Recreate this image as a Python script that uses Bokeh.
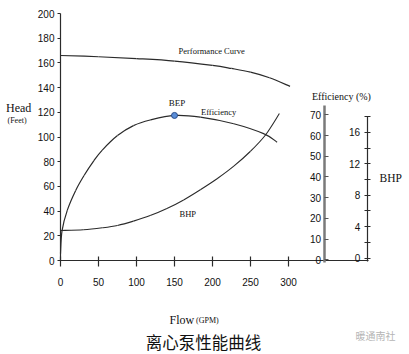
from bokeh.plotting import figure
from bokeh.models import Range1d, LinearAxis, FixedTicker, Label
from bokeh.embed import file_html
from bokeh.resources import INLINE

# ---------------- data ----------------
perf_flow = [0, 50, 100, 150, 200, 225, 250, 275, 302]
perf_head = [166, 165, 163.5, 161.5, 158, 155.5, 152.5, 148, 141]

eff_flow = [0, 2, 9, 20, 31, 44, 55, 75, 96, 118, 150, 184, 228, 268, 285]
eff_pct = [3, 14, 24, 33.5, 40.7, 47.9, 53, 60, 64.8, 67.5, 69.7, 68.9, 65.7, 60.8, 56.8]

bhp_flow = [0, 30, 55, 75, 96, 118, 140, 162, 184, 206, 228, 250, 270, 288]
bhp_val = [3.5, 3.6, 3.85, 4.15, 4.7, 5.4, 6.3, 7.4, 8.7, 10.1, 11.7, 13.6, 15.7, 18.4]

flow_ticks = [0, 50, 100, 150, 200, 250, 300]
head_ticks = [0, 20, 40, 60, 80, 100, 120, 140, 160, 180, 200]
eff_ticks = [0, 10, 20, 30, 40, 50, 60, 70]
bhp_ticks = [0, 4, 8, 12, 16]
bhp_minor = [2, 6, 10, 14, 18]

W, H = 409, 354
# pixel <-> data helpers (layout only)
X0, XS = 60.0, 0.76          # flow 0 at px 60, 0.76 px per GPM
Y0, YS = 260.0, 1.235        # head 0 at py 260
E0, ES = 259.3, 2.071        # efficiency 0 at py 259.3
B0, BS = 257.5, 7.85         # bhp 0 at py 257.5

def fx(px):
    return (px - X0) / XS

def hy(py):
    return (Y0 - py) / YS

p = figure(width=W, height=H, output_backend="svg", toolbar_location=None,
           x_range=Range1d(fx(0), fx(W)), y_range=Range1d(hy(H), hy(0)),
           x_axis_type=None, y_axis_type=None, min_border=0,
           outline_line_color=None, background_fill_color="white",
           border_fill_color="white")
p.extra_y_ranges = {
    "eff": Range1d((E0 - H) / ES, E0 / ES),
    "bhp": Range1d((B0 - H) / BS, B0 / BS),
}

SANS = "Liberation Sans"
SERIF = "Liberation Serif"
DARK = "#2b2b2b"

# ---- axes ----
xax = LinearAxis(fixed_location=0, bounds=(0, fx(367.5)),
                 ticker=FixedTicker(ticks=flow_ticks, minor_ticks=[]),
                 major_tick_in=4, major_tick_out=6, major_label_standoff=11,
                 axis_line_color=DARK, major_tick_line_color=DARK,
                 axis_line_width=1.2, major_tick_line_width=1.2,
                 major_label_text_font=SANS, major_label_text_font_size="10px",
                 major_label_text_color="#111")
p.add_layout(xax, "below")

hax = LinearAxis(fixed_location=0, bounds=(0, 200),
                 ticker=FixedTicker(ticks=head_ticks, minor_ticks=[]),
                 major_tick_in=0, major_tick_out=3, major_label_standoff=3,
                 axis_line_color=DARK, major_tick_line_color=DARK,
                 axis_line_width=1.2,
                 major_label_text_font=SANS, major_label_text_font_size="10px",
                 major_label_text_color="#111")
p.add_layout(hax, "left")

eax = LinearAxis(y_range_name="eff", fixed_location=fx(323.5), bounds=(-1.3, 74.5),
                 ticker=FixedTicker(ticks=eff_ticks, minor_ticks=[]),
                 major_tick_in=4, major_tick_out=0, major_label_standoff=3,
                 axis_line_color="#7a7a7a", axis_line_width=2.5,
                 major_tick_line_color="#555",
                 major_label_text_font=SANS, major_label_text_font_size="10px",
                 major_label_text_color="#111")
p.add_layout(eax, "left")

bax = LinearAxis(y_range_name="bhp", fixed_location=fx(366.7), bounds=(-0.45, 18),
                 ticker=FixedTicker(ticks=bhp_ticks, minor_ticks=bhp_minor),
                 major_tick_in=3, major_tick_out=3, minor_tick_in=3, minor_tick_out=3,
                 major_label_standoff=4,
                 axis_line_color=DARK, major_tick_line_color=DARK,
                 minor_tick_line_color=DARK, axis_line_width=1.2,
                 major_label_text_font=SANS, major_label_text_font_size="10px",
                 major_label_text_color="#111")
p.add_layout(bax, "left")

# ---- smooth curves through the read points (Catmull-Rom -> cubic Bezier) ----
def smooth(xs, ys, **kw):
    n = len(xs)
    x0, y0, x1, y1, cx0, cy0, cx1, cy1 = [], [], [], [], [], [], [], []
    for i in range(n - 1):
        a = max(i - 1, 0)
        d = min(i + 2, n - 1)
        x0.append(xs[i]); y0.append(ys[i])
        x1.append(xs[i + 1]); y1.append(ys[i + 1])
        cx0.append(xs[i] + (xs[i + 1] - xs[a]) / 6.0)
        cy0.append(ys[i] + (ys[i + 1] - ys[a]) / 6.0)
        cx1.append(xs[i + 1] - (xs[d] - xs[i]) / 6.0)
        cy1.append(ys[i + 1] - (ys[d] - ys[i]) / 6.0)
    p.bezier(x0=x0, y0=y0, x1=x1, y1=y1, cx0=cx0, cy0=cy0, cx1=cx1, cy1=cy1, **kw)

smooth(perf_flow, perf_head, line_color=DARK, line_width=1.2)
smooth(eff_flow, eff_pct, line_color=DARK, line_width=1.2, y_range_name="eff")
smooth(bhp_flow, bhp_val, line_color=DARK, line_width=1.1, y_range_name="bhp")

bi = eff_pct.index(max(eff_pct))
p.scatter([eff_flow[bi]], [eff_pct[bi]], size=6, fill_color="#5b8ed8",
          line_color="#2a4d8a", line_width=1, y_range_name="eff")

# ---- texts ----
def lab(text, px, py, size, font=SERIF, align="left", baseline="middle", color="#111"):
    p.add_layout(Label(x=fx(px), y=hy(py), text=text, text_font=font,
                       text_font_size=size, text_align=align,
                       text_baseline=baseline, text_color=color))

lab("Head", 5.5, 107.5, "12px")
lab("(Feet)", 7, 120, "8px")
lab("Performance Curve", 178, 50, "8.5px")
lab("BEP", 176.5, 102, "9px", align="center")
lab("Efficiency", 200.5, 111.5, "8.5px")
lab("BHP", 179, 213.5, "8.5px")
lab("Efficiency (%)", 311.5, 95.5, "10px")
lab("BHP", 379, 177.5, "11.5px")
lab("Flow", 169, 319.5, "12px", baseline="alphabetic")
lab("(GPM)", 195.5, 319.5, "8px", baseline="alphabetic")
lab("离心泵性能曲线", 203, 341, "16.5px", font="Noto Sans CJK SC", align="center")
lab("暖通南社", 355, 335, "10px", font="Noto Sans CJK SC", color="#b5b5b5")

open("out.html", "w").write(file_html(p, INLINE))
